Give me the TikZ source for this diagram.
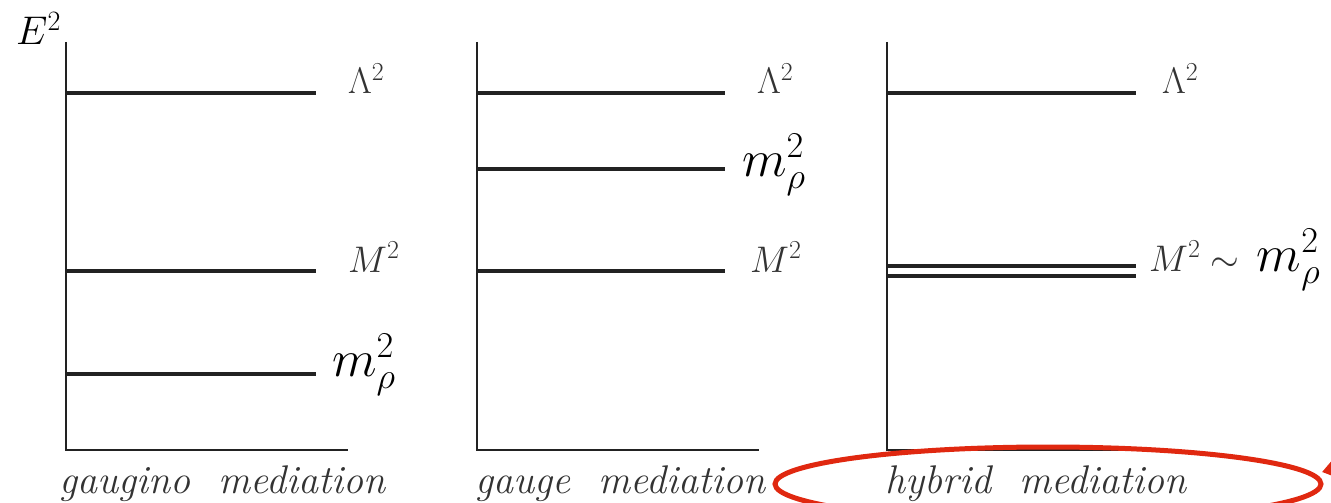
\RequirePackage{fix-cm}
\documentclass[tikz,border=0pt]{standalone}
\usepackage{amsmath}
\usetikzlibrary{arrows.meta,shapes.geometric}
\definecolor{ink}{HTML}{222222}
\definecolor{txt}{HTML}{333333}
\definecolor{redc}{HTML}{E02810}
\begin{document}
\begin{tikzpicture}[x=1pt,y=-1pt,
 axis/.style={draw=ink, line width=2.4pt},
 level/.style={draw=ink, line width=4.4pt},
 small/.style={text=txt, font=\fontsize{37}{40}\selectfont, inner sep=0pt, anchor=base west},
 big/.style={text=black, font=\fontsize{52}{56}\selectfont, inner sep=0pt, anchor=base west},
 caption/.style={text=txt, font=\fontsize{40}{44}\selectfont\itshape, inner sep=0pt, anchor=base},
 hilite/.style={draw=redc, line width=5pt, ellipse, inner sep=0pt},
]
\useasboundingbox (0,0) rectangle (1331,503);
\clip (0,0) rectangle (1331,503);

% axes
\foreach \n/\x in {a/66,b/477,c/887}{
  \coordinate (\n top) at (\x,42);
  \coordinate (\n o) at (\x,450);
  \coordinate (\n end) at (\x+282,450);
  \draw[axis] (\n top) -- (\n o) -- (\n end);
}
\node[small, text=black, font=\fontsize{40}{44}\selectfont] (E) at (16,45) {$E^2$};

% panel 1
\coordinate (a1s) at (66,93);  \coordinate (a1e) at (316,93);
\coordinate (a2s) at (66,271); \coordinate (a2e) at (316,271);
\coordinate (a3s) at (66,374); \coordinate (a3e) at (316,374);
\draw[level] (a1s) -- (a1e);
\draw[level] (a2s) -- (a2e);
\draw[level] (a3s) -- (a3e);
\node[small] (aL) at (348,94) {$\Lambda^2$};
\node[small] (aM) at (348,272) {$M^2$};
\node[big] (am) at (332,376) {$m_\rho^2$};

% panel 2
\coordinate (b1s) at (477,93);  \coordinate (b1e) at (725,93);
\coordinate (b2s) at (477,169); \coordinate (b2e) at (725,169);
\coordinate (b3s) at (477,271); \coordinate (b3e) at (725,271);
\draw[level] (b1s) -- (b1e);
\draw[level] (b2s) -- (b2e);
\draw[level] (b3s) -- (b3e);
\node[small] (bL) at (757,94) {$\Lambda^2$};
\node[big] (bm) at (742,176) {$m_\rho^2$};
\node[small] (bM) at (750,272) {$M^2$};

% panel 3
\coordinate (c1s) at (887,93);  \coordinate (c1e) at (1136,93);
\coordinate (c2s) at (887,266); \coordinate (c2e) at (1136,266);
\coordinate (c3s) at (887,276); \coordinate (c3e) at (1136,276);
\draw[level] (c1s) -- (c1e);
\draw[level] (c2s) -- (c2e);
\draw[level] (c3s) -- (c3e);
\node[small] (cL) at (1162,94) {$\Lambda^2$};
\node[small] (cM) at (1149,271) {$M^2\sim$\ \,{\fontsize{52}{56}\selectfont\color{black}$m_\rho^2$}};

% captions
\node[caption] (ca) at (222,493) {gaugino\ \ mediation};
\node[caption] (cb) at (620,493) {gauge\ \ mediation};
\node[caption] (cc) at (1036,493) {hybrid\ \ mediation};

% highlight
\node[hilite, minimum width=546pt, minimum height=74pt] (hl) at (1048,484) {};
\coordinate (src) at (1400,452);
\coordinate (tip) at (1322,472);
\draw[redc, line width=4pt, -{Triangle[length=18pt,width=24pt]}] (src) -- (tip);
\end{tikzpicture}
\end{document}
